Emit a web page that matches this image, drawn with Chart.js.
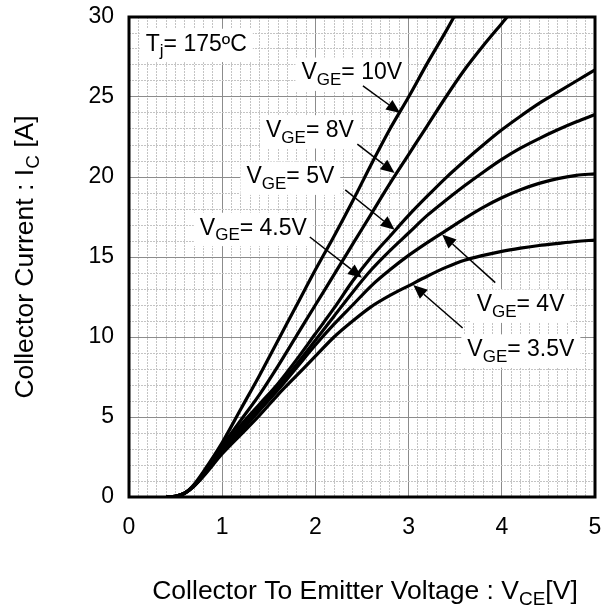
<!DOCTYPE html>
<html>
<head>
<meta charset="utf-8">
<script src="https://cdn.jsdelivr.net/npm/chart.js@4.4.0/dist/chart.umd.min.js"></script>
<style>
  body { margin: 0; background: #fff; }
  #wrap { width: 607px; height: 609px; }
</style>
</head>
<body>
<div id="wrap"><canvas id="ivChart" width="607" height="609"></canvas></div>
<script>
// Collector-emitter voltage (V) sample points
const vce = [0.4, 0.5, 0.6, 0.7, 0.8, 1.0, 1.2, 1.4, 1.6, 1.8, 2.0, 2.2, 2.4, 2.6, 2.8, 3.0, 3.2, 3.4, 3.6, 3.8, 4.0, 4.2, 4.4, 4.6, 4.8, 5.0];

// Collector current (A) for each gate voltage, null = off the top of the chart
const ic10V  = [0, 0.05, 0.25, 0.8, 1.6, 3.4, 5.5, 7.6, 9.8, 12.0, 14.2, 16.3, 18.5, 20.8, 23.0, 25.0, 27.1, 29.1, 31.2, null, null, null, null, null, null, null];
const ic8V   = [0, 0.05, 0.25, 0.75, 1.5, 3.2, 4.8, 6.4, 8.2, 10.1, 12.0, 13.9, 15.8, 17.7, 19.6, 21.4, 23.2, 25.0, 26.7, 28.2, 29.6, 31.0, null, null, null, null];
const ic5V   = [0, 0.05, 0.25, 0.7, 1.4, 3.0, 4.5, 5.8, 7.1, 8.6, 10.2, 11.8, 13.5, 15.0, 16.3, 17.6, 18.8, 19.95, 21.0, 22.0, 22.95, 23.8, 24.6, 25.3, 26.0, 26.7];
const ic4_5V = [0, 0.05, 0.25, 0.7, 1.4, 2.9, 4.3, 5.6, 6.9, 8.3, 9.8, 11.3, 12.8, 14.2, 15.4, 16.5, 17.6, 18.55, 19.45, 20.3, 21.1, 21.8, 22.4, 22.95, 23.45, 23.9];
const ic4V   = [0, 0.05, 0.25, 0.7, 1.35, 2.8, 4.1, 5.4, 6.7, 8.1, 9.5, 10.8, 12.0, 13.2, 14.2, 15.1, 15.9, 16.65, 17.4, 18.1, 18.7, 19.2, 19.6, 19.9, 20.1, 20.2];
const ic3_5V = [0, 0.05, 0.25, 0.7, 1.3, 2.7, 3.9, 5.1, 6.4, 7.6, 8.8, 10.0, 11.0, 11.9, 12.6, 13.2, 13.8, 14.35, 14.8, 15.1, 15.35, 15.55, 15.72, 15.85, 15.97, 16.06];

const gateLabels = ['10V', '8V', '5V', '4.5V', '4V', '3.5V'];
const xTicks = [0, 1, 2, 3, 4, 5];
const yTicks = [0, 5, 10, 15, 20, 25, 30];

const FONT = "'Liberation Sans', Arial, sans-serif";
Chart.defaults.font.family = FONT;

function toPoints(values) {
    const pts = [];
    values.forEach((v, i) => {
        if (v !== null) pts.push({x: vce[i], y: v});
    });
    return pts;
}

function isWhole(v) {
    return Math.abs(v - Math.round(v)) < 1e-6;
}

// label placement (data units): text start, baseline, arrow start -> arrow tip
const notes = [
    {text: gateLabels[0], at: [1.85, 26.1], from: [2.51, 25.7], to: [2.91, 24.0]},
    {text: gateLabels[1], at: [1.47, 22.5], from: [2.45, 22.06], to: [2.85, 20.25]},
    {text: gateLabels[2], at: [1.26, 19.6], from: [2.32, 19.2], to: [2.85, 16.7]},
    {text: gateLabels[3], at: [0.76, 16.4], from: [1.94, 16.25], to: [2.5, 13.7]},
    {text: gateLabels[4], at: [3.73, 11.6], from: [3.93, 13.4], to: [3.36, 16.4]},
    {text: gateLabels[5], at: [3.63, 8.8], from: [3.58, 10.56], to: [3.05, 13.25]},
];

// draws text made of [string, isSubscript] parts, returns width
function drawRich(ctx, parts, x, y, size, measureOnly) {
    const subSize = Math.round(size * 0.72);
    let w = 0;
    parts.forEach(p => {
        ctx.font = (p[1] ? subSize : size) + 'px ' + FONT;
        const pw = ctx.measureText(p[0]).width;
        if (!measureOnly) ctx.fillText(p[0], x + w, p[1] ? y + size * 0.24 : y);
        w += pw;
    });
    return w;
}

function drawArrow(ctx, x1, y1, x2, y2) {
    const ang = Math.atan2(y2 - y1, x2 - x1);
    const len = 14, half = 6;
    ctx.strokeStyle = '#000';
    ctx.lineWidth = 1.5;
    ctx.beginPath();
    ctx.moveTo(x1, y1);
    ctx.lineTo(x2 - len * Math.cos(ang), y2 - len * Math.sin(ang));
    ctx.stroke();
    ctx.beginPath();
    ctx.moveTo(x2, y2);
    ctx.lineTo(x2 - len * Math.cos(ang) + half * Math.sin(ang), y2 - len * Math.sin(ang) - half * Math.cos(ang));
    ctx.lineTo(x2 - len * Math.cos(ang) - half * Math.sin(ang), y2 - len * Math.sin(ang) + half * Math.cos(ang));
    ctx.closePath();
    ctx.fillStyle = '#000';
    ctx.fill();
}

function labelWithBox(ctx, parts, x, y, size) {
    const w = drawRich(ctx, parts, x, y, size, true);
    ctx.fillStyle = '#fff';
    ctx.fillRect(x - 6, y - size * 0.95, w + 12, size * 1.45);
    ctx.fillStyle = '#000';
    drawRich(ctx, parts, x, y, size);
}

const decorPlugin = {
    id: 'decor',
    afterDatasetsDraw(chart) {
        const ctx = chart.ctx;
        const xs = chart.scales.x, ys = chart.scales.y;
        const area = chart.chartArea;
        ctx.save();
        ctx.textBaseline = 'alphabetic';
        ctx.textAlign = 'left';

        labelWithBox(ctx, [['T', false], ['j', true], ['= 175ºC', false]],
            xs.getPixelForValue(0.18), ys.getPixelForValue(27.9), 23);

        notes.forEach(n => {
            labelWithBox(ctx, [['V', false], ['GE', true], ['= ' + n.text, false]],
                xs.getPixelForValue(n.at[0]), ys.getPixelForValue(n.at[1]), 23);
            drawArrow(ctx, xs.getPixelForValue(n.from[0]), ys.getPixelForValue(n.from[1]),
                xs.getPixelForValue(n.to[0]), ys.getPixelForValue(n.to[1]));
        });

        // frame
        ctx.strokeStyle = '#000';
        ctx.lineWidth = 3;
        ctx.strokeRect(area.left, area.top, area.right - area.left, area.bottom - area.top);

        // axis titles
        ctx.fillStyle = '#000';
        const xParts = [['Collector To Emitter Voltage : V', false], ['CE', true], ['[V]', false]];
        const xw = drawRich(ctx, xParts, 0, 0, 26.5, true);
        drawRich(ctx, xParts, 365 - xw / 2, 599, 26.5);

        const yParts = [['Collector Current : I', false], ['C', true], [' [A]', false]];
        const yw = drawRich(ctx, yParts, 0, 0, 26.5, true);
        ctx.translate(33, 257);
        ctx.rotate(-Math.PI / 2);
        drawRich(ctx, yParts, -yw / 2, 0, 26.5);
        ctx.restore();
    }
};

const ctx = document.getElementById('ivChart').getContext('2d');

const seriesList = [ic10V, ic8V, ic5V, ic4_5V, ic4V, ic3_5V];

new Chart(ctx, {
    type: 'line',
    data: {
        datasets: seriesList.map((s, i) => ({
            label: 'VGE=' + gateLabels[i],
            data: toPoints(s),
            borderColor: '#000',
            borderWidth: 3.2,
            pointRadius: 0,
            fill: false,
            cubicInterpolationMode: 'monotone',
        })),
    },
    options: {
        responsive: false,
        animation: false,
        devicePixelRatio: 1,
        layout: { padding: { top: 17, right: 12, left: 0, bottom: 0 } },
        plugins: { legend: { display: false }, tooltip: { enabled: false } },
        scales: {
            x: {
                type: 'linear',
                min: 0,
                max: 5,
                afterFit: scale => {
                    scale.height = 112;
                    scale.paddingLeft = 0;
                    scale.paddingRight = 0;
                },
                ticks: {
                    stepSize: 0.1,
                    autoSkip: false,
                    maxRotation: 0,
                    padding: 17,
                    color: '#000',
                    font: { size: 23 },
                    callback: v => (isWhole(v) && xTicks.includes(Math.round(v))) ? String(Math.round(v)) : '',
                },
                grid: {
                    drawTicks: false,
                    lineWidth: 1,
                    color: c => isWhole(c.tick.value) ? '#8c8c8c' : '#c4c4c4',
                },
                border: {
                    display: false,
                    dash: c => (c.tick && !isWhole(c.tick.value)) ? [2, 1] : [],
                },
            },
            y: {
                type: 'linear',
                min: 0,
                max: 30,
                afterFit: scale => {
                    scale.width = 129;
                    scale.paddingTop = 0;
                    scale.paddingBottom = 0;
                },
                ticks: {
                    stepSize: 1,
                    autoSkip: false,
                    padding: 15,
                    color: '#000',
                    font: { size: 23 },
                    callback: v => yTicks.includes(v) ? String(v) : '',
                },
                grid: {
                    drawTicks: false,
                    lineWidth: 1,
                    color: c => (c.tick.value % 5 === 0) ? '#8c8c8c' : '#c4c4c4',
                },
                border: {
                    display: false,
                    dash: c => (c.tick && c.tick.value % 5 !== 0) ? [2, 1] : [],
                },
            },
        },
    },
    plugins: [decorPlugin],
});
</script>
</body>
</html>
